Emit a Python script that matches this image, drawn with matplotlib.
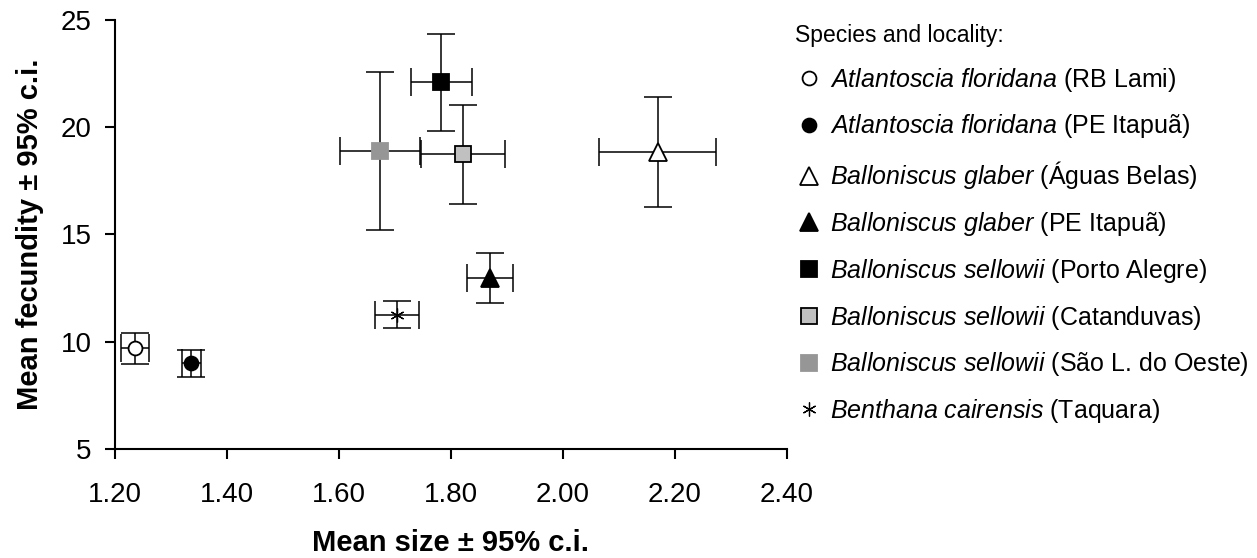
import numpy as np
import matplotlib
matplotlib.use('Agg')
import matplotlib.pyplot as plt

plt.rcParams['font.family'] = ['Liberation Sans', 'DejaVu Sans']
plt.rcParams['mathtext.fontset'] = 'custom'
plt.rcParams['mathtext.it'] = 'Liberation Sans:italic'
plt.rcParams['mathtext.rm'] = 'Liberation Sans'

# species / locality
species = ['Atlantoscia floridana', 'Atlantoscia floridana', 'Balloniscus glaber',
           'Balloniscus glaber', 'Balloniscus sellowii', 'Balloniscus sellowii',
           'Balloniscus sellowii', 'Benthana cairensis']
locality = ['RB Lami', 'PE Itapuã', 'Águas Belas', 'PE Itapuã', 'Porto Alegre',
            'Catanduvas', 'São L. do Oeste', 'Taquara']

# mean size and 95% c.i.
size_mean = [1.236, 1.336, 2.169, 1.869, 1.783, 1.821, 1.673, 1.703]
size_ci = [0.025, 0.017, 0.105, 0.041, 0.055, 0.075, 0.072, 0.039]
# mean fecundity and 95% c.i.
fec_mean = [9.69, 9.00, 18.85, 12.98, 22.09, 18.74, 18.89, 11.26]
fec_ci = [0.73, 0.63, 2.58, 1.18, 2.28, 2.31, 3.70, 0.64]

markers = ['o', 'o', '^', '^', 's', 's', 's', (6, 2, 0)]
faces = ['white', 'black', 'white', 'black', 'black', '#c0c0c0', '#969696', 'black']
edges = ['black', 'black', 'black', 'black', 'black', 'black', '#969696', 'black']
msizes = [10, 10, 13, 13, 12, 12, 12, 10]
mews = [1.3, 1.3, 1.3, 1.3, 1.3, 1.3, 1.3, 0.9]

fig = plt.figure(figsize=(12.57, 5.58), dpi=100)
ax = fig.add_axes([115/1257, 1-449/558, 672/1257, 429/558])

for i in range(len(species)):
    ax.errorbar(size_mean[i], fec_mean[i], xerr=size_ci[i], yerr=fec_ci[i],
                fmt='none', ecolor='black', elinewidth=1.1, capsize=10,
                capthick=1.1, zorder=2)
    lab = r'$\mathit{' + species[i].replace(' ', r'\ ') + '}$ (' + locality[i] + ')'
    ax.plot(size_mean[i], fec_mean[i], linestyle='none', marker=markers[i],
            markersize=msizes[i], markerfacecolor=faces[i], markeredgecolor=edges[i],
            markeredgewidth=mews[i], zorder=3, label=lab)

ax.set_xlim(1.2, 2.4)
ax.set_ylim(5, 25)
ax.set_xticks(np.arange(1.2, 2.41, 0.2))
ax.set_xticklabels(['%.2f' % v for v in np.arange(1.2, 2.41, 0.2)])
ax.set_yticks([5, 10, 15, 20, 25])
for s in ['top', 'right']:
    ax.spines[s].set_visible(False)
for s in ['left', 'bottom']:
    ax.spines[s].set_linewidth(1.5)
ax.tick_params(direction='out', length=7, width=1.5, labelsize=20)
ax.tick_params(axis='x', pad=17)
ax.tick_params(axis='y', pad=10)
ax.set_xlabel('Mean size ± 95% c.i.', fontsize=21, fontweight='bold', labelpad=15)
ax.set_ylabel('Mean fecundity ± 95% c.i.', fontsize=21, fontweight='bold', labelpad=12)

handles, labels = ax.get_legend_handles_labels()
leg = fig.legend(handles, labels, loc='upper left', bbox_to_anchor=(795/1257, 1-24/558),
                 frameon=False, fontsize=18, title='Species and locality:',
                 title_fontsize=16.5, labelspacing=0.75, handletextpad=0.3,
                 handlelength=1.1, borderpad=0, borderaxespad=0, alignment='left')

fig.savefig('out.png', dpi=100)
